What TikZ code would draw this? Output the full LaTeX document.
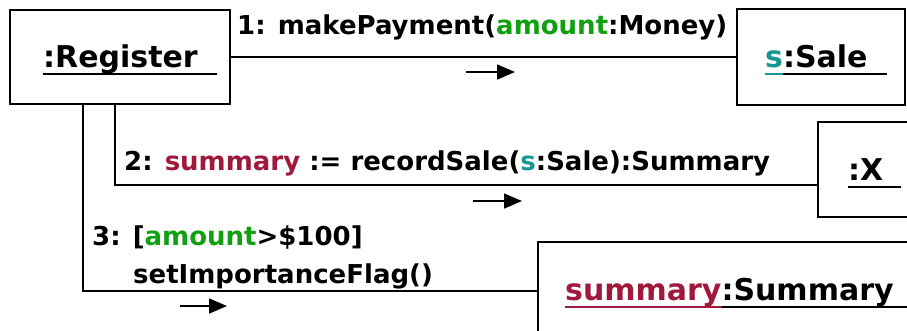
\documentclass[tikz,border=0pt]{standalone}
\usepackage{fontspec}
\setmainfont{DejaVu Sans}
\usetikzlibrary{arrows.meta,calc}

\definecolor{argGreen}{RGB}{16,160,16}
\definecolor{objTeal}{RGB}{24,150,150}
\definecolor{varRed}{RGB}{160,24,60}

% underlined piece of an object name, optional trailing underline length
\newcommand\objul[3][0pt]{{\color{#2}\setbox0\hbox{#3\hspace{#1}}\rlap{\rule[-8pt]{\wd0}{1.8pt}}\box0}}

\begin{document}
\begin{tikzpicture}[x=1pt,y=-1pt,
  objbox/.style={draw,line width=1.6pt,inner sep=0pt,outer sep=0pt},
  objname/.style={inner sep=0pt,anchor=base west,font=\fontsize{30}{34}\selectfont\bfseries},
  msg/.style={inner sep=0pt,anchor=base west,font=\fontsize{26}{30}\selectfont\bfseries},
  link/.style={line width=1.6pt},
  flow/.style={line width=1.6pt,-{Triangle[length=18pt,width=15pt]}}]

\useasboundingbox (0,0) rectangle (907,330);
\clip (0,0) rectangle (907,330);

% objects
\node[objbox,minimum width=220,minimum height=94] (reg)  at (120,57) {};
\node[objbox,minimum width=168,minimum height=96] (sale) at (821,57) {};
\node[objbox,minimum width=94,minimum height=95]  (xobj) at (865,169.5) {};
\node[objbox,minimum width=386,minimum height=98] (summ) at (731,291) {};

\node[objname] (regname)  at (43,67)  {\objul[19pt]{black}{:Register}};
\node[objname] (salename) at (765,67) {\objul{objTeal}{s}\objul[19pt]{black}{:Sale}};
\node[objname] (xname)    at (848,180) {\objul[18pt]{black}{:X}};
\node[objname] (summname) at (565,300) {\objul{varRed}{summary}\objul[20pt]{black}{:Summary}};

% links
\draw[link] (reg) -- (sale);
\draw[link] ([xshift=-5pt]reg.south) |- ([yshift=-15.5pt]xobj.west);
\draw[link] ([xshift=-37pt]reg.south) |- (summ.west);

% messages
\node[msg] (m1) at (237,34) {1: makePayment(\textcolor{argGreen}{amount}:Money)};
\node[msg] (m2) at (124,170) {2: \textcolor{varRed}{summary} := recordSale(\textcolor{objTeal}{s}:Sale):Summary};
\node[msg] (m3a) at (92,245) {3: [\textcolor{argGreen}{amount}>\$100]};
\node[msg] (m3b) at (133,283) {setImportanceFlag()};

% message directions
\coordinate (a1s) at (466,72);  \coordinate (a1e) at (515,72);
\coordinate (a2s) at (473,201); \coordinate (a2e) at (522,201);
\coordinate (a3s) at (180,306); \coordinate (a3e) at (227,306);
\draw[flow] (a1s) -- (a1e);
\draw[flow] (a2s) -- (a2e);
\draw[flow] (a3s) -- (a3e);
\end{tikzpicture}
\end{document}
